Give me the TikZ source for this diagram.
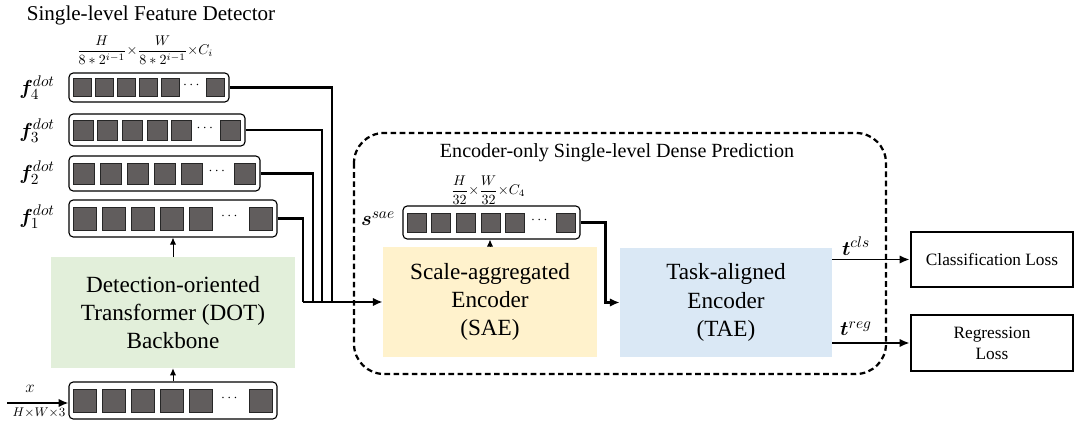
\documentclass[tikz,border=0pt]{standalone}
\usepackage{fontspec}
\setmainfont{Liberation Serif}
\usepackage{amsmath,bm}
\usetikzlibrary{arrows.meta,positioning,fit}

\definecolor{dotgreen}{HTML}{E2EFDA}
\definecolor{saeyellow}{HTML}{FFF2CC}
\definecolor{taeblue}{HTML}{DAE8F5}
\definecolor{sqgray}{HTML}{615D5D}

\tikzset{
  rowbox/.style={draw, rounded corners=3pt, line width=0.8pt, inner sep=0pt},
  sq/.style={draw=black!85, fill=sqgray, inner sep=0pt, line width=0.5pt},
  bigbox/.style={align=center, inner sep=0pt, font=\fontsize{16.5}{20}\selectfont},
  lossbox/.style={draw, line width=2pt, align=center, inner sep=0pt, font=\fontsize{12.3}{15}\selectfont},
  conn/.style={line width=1.6pt},
  thinarr/.style={line width=0.7pt, -{Latex[length=5pt,width=4.5pt]}},
  lbl/.style={inner sep=0pt, font=\fontsize{15}{18}\selectfont},
  dims/.style={inner sep=0pt, font=\fontsize{9.8}{12}\selectfont},
}

% row of tokens: name, left, top, right, bottom, square size, pitch
\newcommand{\featrow}[7]{%
  \node[rowbox, fit={(#2,#3) (#4,#5)}] (#1) {};
  \foreach \k in {0,...,4}
    \node[sq, minimum size=#6*0.025cm] (#1-\k) at ({#2+4+#6/2+\k*#7},{(#3+#5)/2}) {};
  \node[sq, minimum size=#6*0.025cm] (#1-n) at ({#4-5-#6/2},{(#3+#5)/2}) {};
  \node[inner sep=0pt] (#1-dots) at ({(#2+4+4*#7+#6+#4-5-#6)/2},{(#3+#5)/2-2}) {$\cdots$};
}

\begin{document}
\begin{tikzpicture}[x=0.025cm,y=-0.025cm,>={Latex[length=7pt,width=6pt]}]
    \useasboundingbox (0,0) rectangle (1080,431);
    %%%%%%%%% detector side
    \node [font=\fontsize{15}{18}\selectfont] (title) at (151,15) {Single-level Feature Detector};
    \node [dims] (dimsf) at (145,50) {$\dfrac{H}{8*2^{i-1}}{\times}\dfrac{W}{8*2^{i-1}}{\times}C_i$};
    \featrow{f4}{69}{73}{229}{102}{18}{22}
    \featrow{f3}{69}{114}{245}{146}{20}{24.7}
    \featrow{f2}{69}{156}{260}{191}{21}{27}
    \featrow{f1}{69}{200}{277}{237}{23}{29}
    \node [lbl] (lf4) at (37,88) {$\bm{f}_4^{dot}$};
    \node [lbl] (lf3) at (37,131) {$\bm{f}_3^{dot}$};
    \node [lbl] (lf2) at (37,173) {$\bm{f}_2^{dot}$};
    \node [lbl] (lf1) at (37,217) {$\bm{f}_1^{dot}$};
    \node (dot) [bigbox, fill=dotgreen, minimum width=6.1cm, minimum height=2.775cm] at (173,312.5)
        {Detection-oriented\\Transformer (DOT)\\Backbone};
    \featrow{xin}{69}{382}{277}{419}{23}{29}
    \coordinate (xsrc) at (7,403);
    \node [inner sep=0pt, font=\fontsize{13}{15}\selectfont] (lx) at (30,389) {$x$};
    \node [dims, font=\fontsize{9.2}{11}\selectfont] (dimsx) at (39,413) {$H{\times}W{\times}3$};
    %%%%%%%%% dense prediction side
    \draw [line width=1.6pt, dash pattern=on 4pt off 2.5pt, rounded corners=0.75cm] (354,133) rectangle (886,374);
    \node [font=\fontsize{14.3}{17}\selectfont] (ptitle) at (617,153) {Encoder-only Single-level Dense Prediction};
    \featrow{sae-out}{403}{206}{580}{239}{19}{24.7}
    \node [lbl] (ls) at (378,219) {$\bm{s}^{sae}$};
    \node [dims] (dimss) at (488,190) {$\dfrac{H}{32}{\times}\dfrac{W}{32}{\times}C_4$};
    \node (sae) [bigbox, fill=saeyellow, minimum width=5.35cm, minimum height=2.75cm] at (490,302)
        {Scale-aggregated\\Encoder\\(SAE)};
    \node (tae) [bigbox, fill=taeblue, minimum width=5.3cm, minimum height=2.725cm] at (726,302.5)
        {Task-aligned\\Encoder\\(TAE)};
    \node (cls) [lossbox, minimum width=4.05cm, minimum height=1.375cm] at (992,259.5) {Classification Loss};
    \node (reg) [lossbox, minimum width=4.05cm, minimum height=1.4cm] at (992,343) {Regression\\Loss};
    \node [lbl] (lcls) at (856,246) {$\bm{t}^{cls}$};
    \node [lbl] (lreg) at (856,329) {$\bm{t}^{reg}$};
    %%%%%%%%%% connectors
        \coordinate (j1) at (303,302);
        \coordinate (j2) at (313,302);
        \coordinate (j3) at (322,302);
        \coordinate (j4) at (332,302);
            \draw[conn] (f1.east) -| (j1);
            \draw[conn] (f2.east) -| (j2);
            \draw[conn] (f3.east) -| (j3);
            \draw[conn] (f4.east) -| (j4);
            \draw[conn,->] (j1) -- (sae.west);
            \draw[thinarr] (dot.north) -- (f1.south);
            \draw[thinarr] (xin.north) -- (dot.south);
            \draw[->,line width=1.2pt] (xsrc) -- (xsrc -| xin.west);
            \draw[thinarr] (sae.north) -- (sae.north |- sae-out.south);
            \draw[conn,->] (sae-out.east) -- ++(25,0) |- (tae.west);
            \draw[->,line width=1.3pt] (cls.west -| tae.east) -- (cls.west);
            \draw[->,line width=1.3pt] (reg.west -| tae.east) -- (reg.west);
\end{tikzpicture}
\end{document}
